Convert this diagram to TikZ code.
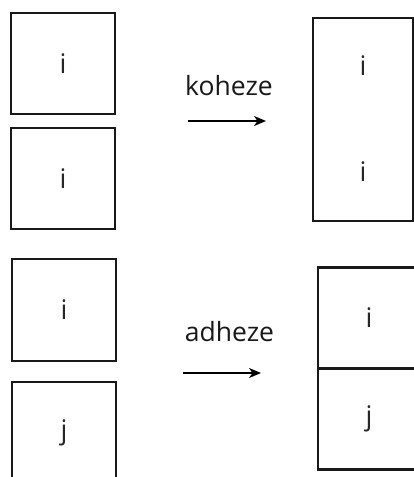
\documentclass[tikz,border=0pt]{standalone}
\usepackage{fontspec}
\setmainfont{Open Sans}
\usetikzlibrary{arrows.meta}

\begin{document}
\begin{tikzpicture}[x=1pt, y=-1pt,
  cell/.style={rectangle, draw=black!90, line width=2.2pt, inner sep=0pt},
  letter/.style={font=\fontsize{27}{30}\selectfont, text=black!85},
  word/.style={font=\fontsize{26.5}{30}\selectfont, text=black!90, anchor=base},
  push/.style={line width=1.6pt, -{Stealth[length=12pt, width=10pt, inset=3.5pt]}}]
\clip (0,0) rectangle (414,477);
\fill[white] (0,0) rectangle (414,477);

% koheze: i + i
\node[cell, minimum width=104pt, minimum height=101pt] (I1) at (63,63.5) {};
\node[letter] at (I1) {i};
\node[cell, minimum width=104pt, minimum height=101pt] (I2) at (63,178.5) {};
\node[letter] at (I2) {i};

\node[word] (koh) at (229,95) {koheze};
\coordinate (k1) at (188,121);
\coordinate (k2) at (266,121);
\draw[push] (k1) -- (k2);

\node[cell, minimum width=100pt, minimum height=203pt] (II) at (363,119.5) {};
\node[letter] (IIa) at (363,66) {i};
\node[letter] (IIb) at (363,172) {i};

% adheze: i + j
\node[cell, minimum width=104pt, minimum height=102pt] (I3) at (64,310) {};
\node[letter] at (I3) {i};
\node[cell, minimum width=104pt, minimum height=102pt] (J3) at (64,433) {};
\node[letter] at (J3) {j};

\node[word] (adh) at (229.5,341) {adheze};
\coordinate (a1) at (183,373);
\coordinate (a2) at (261,373);
\draw[push] (a1) -- (a2);

\node[cell, minimum width=110pt, minimum height=101pt] (I4) at (373,318) {};
\node[letter] at (318+51,318) {i};
\node[cell, minimum width=110pt, minimum height=101pt] (J4) at (373,419) {};
\node[letter] at (318+51,419) {j};
\end{tikzpicture}
\end{document}
